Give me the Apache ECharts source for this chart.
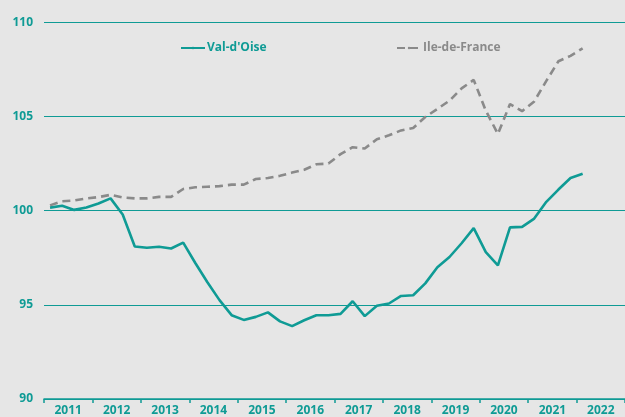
<!DOCTYPE html>
<html>
<head>
<meta charset="utf-8">
<script src="https://cdn.jsdelivr.net/npm/echarts@6/dist/echarts.min.js"></script>
<style>
html,body{margin:0;padding:0;background:#e6e6e6;}
#chart{width:625px;height:417px;}
</style>
</head>
<body>
<div id="chart"></div>
<script>
const years = ['2011','2012','2013','2014','2015','2016','2017','2018','2019','2020','2021','2022'];
// quarterly index values, 2011 Q1 .. 2022 Q1
const valDOise = [100.16,100.26,100.04,100.17,100.38,100.65,99.8,98.1,98.03,98.08,97.99,98.3,
  97.22,96.2,95.25,94.45,94.2,94.36,94.6,94.12,93.87,94.18,94.45,94.45,
  94.52,95.19,94.4,94.95,95.07,95.47,95.51,96.14,97.0,97.54,98.27,99.07,
  97.8,97.1,99.11,99.14,99.58,100.47,101.12,101.73,101.96];
const ileDeFrance = [100.28,100.5,100.54,100.65,100.72,100.84,100.7,100.65,100.65,100.73,100.73,101.15,
  101.24,101.27,101.3,101.38,101.38,101.68,101.73,101.85,102.02,102.17,102.46,102.5,
  103.0,103.37,103.3,103.79,104.0,104.26,104.39,104.97,105.4,105.84,106.49,106.94,
  105.31,104.07,105.66,105.28,105.8,106.89,107.93,108.22,108.62];
const yTicks = {min:90, max:110, interval:5};

const teal = '#0f9b95';
const grey = '#8a8a8a';
const font = 'Open Sans';

function toPoints(arr){ return arr.map((v,i)=>[i+0.5, v]); }

const chart = echarts.init(document.getElementById('chart'), null, {renderer:'canvas'});
chart.setOption({
  backgroundColor:'#e6e6e6',
  animation:false,
  grid:{left:44, right:-6, top:22.3, bottom:13, containLabel:false},
  legend:[
    {data:["Val-d'Oise"], left:175, top:37, itemWidth:24, itemHeight:3, itemGap:0,
     textStyle:{color:teal, fontFamily:font, fontWeight:'bold', fontSize:12, padding:[0,0,0,-3]}},
    {data:['Ile-de-France'], left:391, top:37, itemWidth:24, itemHeight:3, itemGap:0,
     textStyle:{color:grey, fontFamily:font, fontWeight:'bold', fontSize:12, padding:[0,0,0,-3]}}
  ],
  xAxis:[
    {type:'category', data:years, boundaryGap:true,
     axisLine:{show:true, lineStyle:{color:teal, width:1.5}},
     axisTick:{show:true, length:4, lineStyle:{color:teal, width:1.5}},
     axisLabel:{color:teal, fontFamily:font, fontWeight:'bold', fontSize:12, margin:6},
     splitLine:{show:false}},
    {type:'value', min:0, max:years.length*4, show:false}
  ],
  yAxis:{type:'value', min:yTicks.min, max:yTicks.max, interval:yTicks.interval,
    axisLine:{show:false}, axisTick:{show:false},
    axisLabel:{color:teal, fontFamily:font, fontWeight:'bold', fontSize:12, margin:11},
    splitLine:{show:true, lineStyle:{color:teal, width:1.2}}},
  series:[
    {name:"Val-d'Oise", type:'line', xAxisIndex:1, data:toPoints(valDOise),
     symbol:'none', lineStyle:{color:teal, width:2.6}, itemStyle:{color:teal}},
    {name:'Ile-de-France', type:'line', xAxisIndex:1, data:toPoints(ileDeFrance),
     symbol:'none', lineStyle:{color:grey, width:2.6, type:[8,5]}, itemStyle:{color:grey}}
  ]
});
</script>
</body>
</html>
